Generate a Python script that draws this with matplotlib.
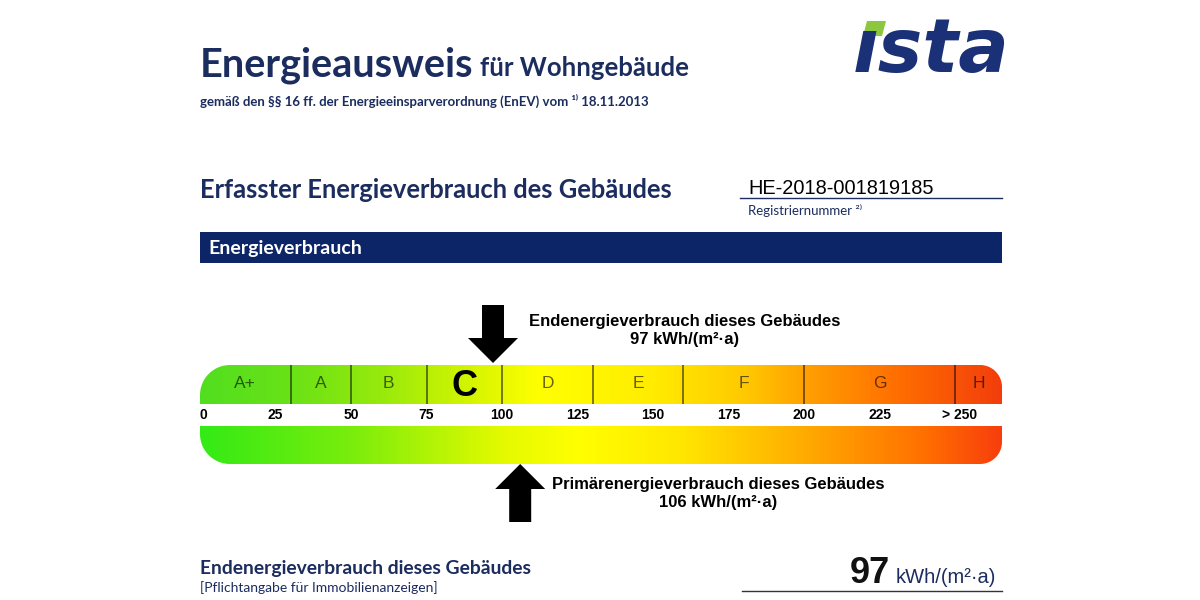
import numpy as np
import matplotlib
matplotlib.use("Agg")
import matplotlib.pyplot as plt
from matplotlib.path import Path
from matplotlib.patches import PathPatch, Polygon, Rectangle
from matplotlib.colors import LinearSegmentedColormap

# energy classes of the scale (kWh/(m²·a))
classes = ["A+", "A", "B", "C", "D", "E", "F", "G", "H"]
class_edges = [0, 30, 50, 75, 100, 130, 160, 200, 250, 265.5]
tick_values = [0, 25, 50, 75, 100, 125, 150, 175, 200, 225, 250]
tick_labels = ["0", "25", "50", "75", "100", "125", "150", "175", "200", "225", "> 250"]
rating = "C"
end_energy = 97
primary_energy = 106
unit = "kWh/(m²·a)"
reg_number = "HE-2018-001819185"

NAVY = "#1b2c5f"
BANNER = "#0c2567"
SANS = ["Lato", "DejaVu Sans"]
ARIAL = ["Liberation Sans", "DejaVu Sans"]

# colour stops of the two gradient bars (value, rgb)
top_stops = [(0, (82, 222, 32)), (30, (105, 226, 22)), (60, (152, 234, 12)), (90, (214, 245, 0)),
             (112, (255, 255, 0)), (150, (255, 236, 0)), (180, (255, 202, 0)), (200, (255, 162, 0)),
             (230, (255, 112, 0)), (265.5, (243, 62, 12))]
bot_stops = [(0, (52, 234, 22)), (50, (122, 237, 12)), (100, (228, 250, 0)), (125, (255, 255, 0)),
             (160, (255, 230, 0)), (200, (255, 172, 0)), (240, (255, 112, 0)), (265.5, (248, 62, 12))]


def make_cmap(stops, vmax):
    return LinearSegmentedColormap.from_list(
        "g", [(v / vmax, tuple(c / 255 for c in rgb)) for v, rgb in stops])


fig = plt.figure(figsize=(12, 6), dpi=100)

# overlay axes in pixel coordinates for the page texts
bg = fig.add_axes([0, 0, 1, 1])
bg.set_xlim(0, 1200)
bg.set_ylim(600, 0)
bg.axis("off")

# scale axes: x in kWh, y in pixel rows
xmax = class_edges[-1]
ppu = 802 / xmax
ax = fig.add_axes([200 / 1200, 70 / 600, 802 / 1200, 240 / 600])
ax.set_facecolor("none")


def bar_path(x0, x1, yt, yb, rl, rr, top=True):
    rxl, rxr = rl / ppu, rr / ppu
    if top:
        t1 = np.linspace(np.pi, 1.5 * np.pi, 20)
        t2 = np.linspace(1.5 * np.pi, 2 * np.pi, 20)
        pts = [(x0, yb)]
        pts += list(zip(x0 + rxl + rxl * np.cos(t1), yt + rl + rl * np.sin(t1)))
        pts += list(zip(x1 - rxr + rxr * np.cos(t2), yt + rr + rr * np.sin(t2)))
        pts += [(x1, yb), (x0, yb)]
    else:
        t1 = np.linspace(0, 0.5 * np.pi, 20)
        t2 = np.linspace(0.5 * np.pi, np.pi, 20)
        pts = [(x0, yt), (x1, yt)]
        pts += list(zip(x1 - rxr + rxr * np.cos(t1), yb - rr + rr * np.sin(t1)))
        pts += list(zip(x0 + rxl + rxl * np.cos(t2), yb - rl + rl * np.sin(t2)))
        pts += [(x0, yt)]
    return Path(pts)


grad = np.linspace(0, xmax, 800)[None, :]
for stops, yt, yb, top in [(top_stops, 365, 404, True), (bot_stops, 426, 464, False)]:
    patch = PathPatch(bar_path(0, xmax, yt, yb, 30, 22, top), facecolor="none", edgecolor="none")
    ax.add_patch(patch)
    im = ax.imshow(grad, cmap=make_cmap(stops, xmax), vmin=0, vmax=xmax, aspect="auto",
                   extent=(0, xmax, yb, yt), interpolation="bilinear")
    im.set_clip_path(patch)

# class separators and letters
ax.vlines(class_edges[1:-1], 365, 404, color=(0, 0, 0, 0.55), lw=1.3)
for i, c in enumerate(classes):
    xc = (class_edges[i] + class_edges[i + 1]) / 2
    if c == rating:
        ax.text(xc, 386, c, ha="center", va="center", fontsize=26, fontweight="bold",
                color="black", family=ARIAL)
    else:
        ax.text(xc, 384, c, ha="center", va="center", fontsize=12.5, color=(0, 0, 0, 0.6),
                family=ARIAL)

# tick labels
for v, lab in zip(tick_values, tick_labels):
    ha = "left" if v == 0 else "center"
    xv = v + (4 / ppu if lab.startswith(">") else 0)
    ax.text(xv, 415, lab, ha=ha, va="center", fontsize=10, fontweight="bold",
            color="black", family=ARIAL)

# arrows
hs, hh = 11 / ppu, 25 / ppu
v = end_energy
ax.fill([v - hs, v + hs, v + hs, v + hh, v, v - hh, v - hs],
        [305, 305, 338, 338, 363, 338, 338], color="black", lw=0)
v = primary_energy
ax.fill([v - hs, v + hs, v + hs, v + hh, v, v - hh, v - hs],
        [522, 522, 489, 489, 464, 489, 489], color="black", lw=0)

tx = (685 - 200) / ppu
ax.text(tx, 322, "Endenergieverbrauch dieses Gebäudes", ha="center", va="center",
        fontsize=12, fontweight="bold", family=ARIAL)
ax.text(tx, 340, f"{end_energy} {unit}", ha="center", va="center",
        fontsize=12, fontweight="bold", family=ARIAL)
tx = (718 - 200) / ppu
ax.text(tx, 485, "Primärenergieverbrauch dieses Gebäudes", ha="center", va="center",
        fontsize=12, fontweight="bold", family=ARIAL)
ax.text(tx, 502, f"{primary_energy} {unit}", ha="center", va="center",
        fontsize=12, fontweight="bold", family=ARIAL)

ax.set_xlim(0, xmax)
ax.set_ylim(530, 290)
ax.axis("off")

# page header
bg.text(200, 76, "Energieausweis", fontsize=28.5, fontweight="bold", color=NAVY,
        family=SANS, va="baseline")
bg.text(480, 76, "für Wohngebäude", fontsize=18.5, fontweight="bold", color=NAVY,
        family=SANS, va="baseline")
bg.text(200, 106, "gemäß den §§ 16 ff. der Energieeinsparverordnung (EnEV) vom ¹⁾ 18.11.2013",
        fontsize=9.5, fontweight="bold", color=NAVY, family=SANS, va="baseline")

# logo
bg.text(853, 72, "ısta", fontsize=54, fontweight="bold", style="italic", color="#1a3177",
        family=["DejaVu Sans"], va="baseline")
bg.add_patch(Polygon([(867, 21), (886, 21), (882, 36), (863, 36)], closed=True,
                     color="#8dc63f", lw=0))

bg.text(200, 198, "Erfasster Energieverbrauch des Gebäudes", fontsize=18.4, fontweight="bold",
        color=NAVY, family=SANS, va="baseline")
bg.text(748, 194, reg_number, fontsize=14.4, color="black", family=ARIAL, va="baseline")
bg.plot([740, 1002], [198, 198], color=NAVY, lw=1)
bg.text(748, 215, "Registriernummer ²⁾", fontsize=9.5, color=NAVY, family=SANS, va="baseline")

bg.add_patch(Rectangle((200, 232), 802, 31, color=BANNER, lw=0))
bg.text(208, 254, "Energieverbrauch", fontsize=14, fontweight="bold", color="white",
        family=SANS, va="baseline")

# footer
bg.text(200, 574, "Endenergieverbrauch dieses Gebäudes", fontsize=13.9, fontweight="bold",
        color=NAVY, family=SANS, va="baseline")
bg.text(200, 592, "[Pflichtangabe für Immobilienanzeigen]", fontsize=10, color=NAVY,
        family=SANS, va="baseline")
bg.text(890, 583, str(end_energy), fontsize=26, fontweight="bold", color="#111111",
        family=ARIAL, va="baseline", ha="right")
bg.text(896, 583, unit, fontsize=14.5, color=NAVY, family=ARIAL, va="baseline")
bg.plot([742, 1002], [591, 591], color="#333333", lw=1)

fig.savefig("out.png", dpi=100)
